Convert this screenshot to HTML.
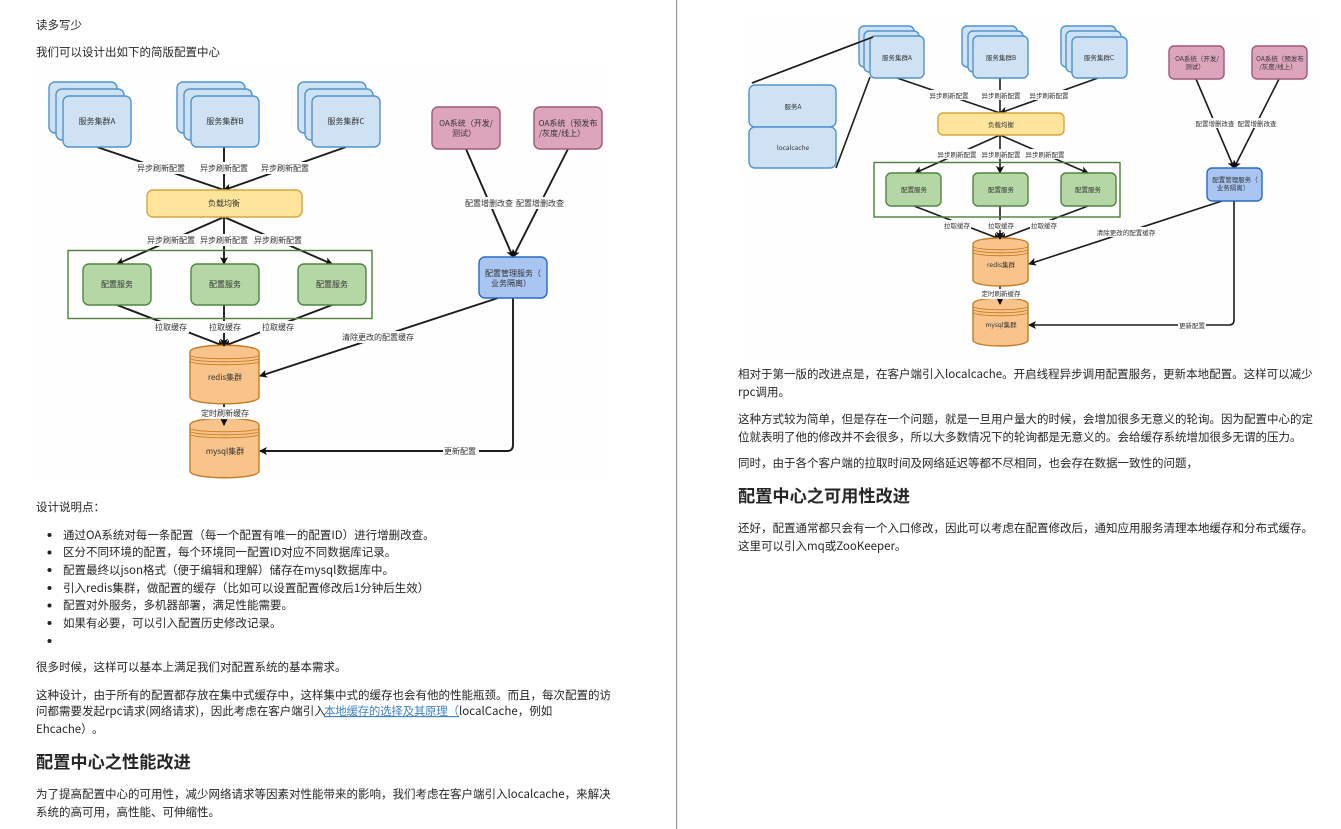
<!DOCTYPE html>
<html lang="zh">
<head>
<meta charset="utf-8">
<style>
html,body{margin:0;padding:0;background:#fff;width:1341px;height:829px;overflow:hidden}
svg{display:block}
text{font-family:"Noto Sans CJK SC","Liberation Sans",sans-serif}
.t{font-size:11.5px;fill:#262626}
.h{font-size:17.2px;font-weight:700;fill:#262626}
.d text{font-size:8px;fill:#333;text-anchor:middle}
.dr text{font-size:6.5px;fill:#333;text-anchor:middle}
.e{stroke:#1c1c1c;stroke-width:1.9;fill:none}
.er{stroke:#1c1c1c;stroke-width:1.6;fill:none}
.lb{fill:#fefefe}
.blue{fill:#cfe2f3;stroke:#4f93cf;stroke-width:1.4}
.yel{fill:#ffe49c;stroke:#d6a63e;stroke-width:1.4}
.grn{fill:#b5d6a5;stroke:#4f8540;stroke-width:1.4}
.pnk{fill:#dca5bb;stroke:#a05a78;stroke-width:1.4}
.mg{fill:#a9c5f2;stroke:#2a68c8;stroke-width:1.4}
.org{fill:#f9c48c;stroke:#c47c22;stroke-width:1.4}
.ln{fill:none;stroke:#c47c22;stroke-width:.9}
.fr{fill:none;stroke:#4f7f3c;stroke-width:1.4}
</style>
</head>
<body>
<svg width="1341" height="829" viewBox="0 0 1341 829" xmlns="http://www.w3.org/2000/svg">
<defs>
<filter id="b" x="-2%" y="-2%" width="104%" height="104%"><feGaussianBlur stdDeviation="0.3"/></filter>
<marker id="a" markerWidth="8" markerHeight="8" refX="7" refY="4" orient="auto" markerUnits="userSpaceOnUse"><path d="M0 0L8 4L0 8L2 4Z" fill="#111"/></marker>
</defs>
<rect x="676" y="0" width="1.2" height="829" fill="#999"/>

<!-- LEFT DIAGRAM -->
<g filter="url(#b)">
<rect x="36" y="68" width="572" height="412" fill="#fefefe"/>
<g class="e">
<path d="M97 147L224 190M224 147V190M346 147L224 190" marker-end="url(#a)"/>
<path d="M224 217L117 264" marker-end="url(#a)"/><path d="M224 217V264" marker-end="url(#a)"/><path d="M224 217L332 264" marker-end="url(#a)"/>
<path d="M117 305L224 346" marker-end="url(#a)"/><path d="M224 305V346" marker-end="url(#a)"/><path d="M332 305L224 346" marker-end="url(#a)"/>
<path d="M466 149L513 257" marker-end="url(#a)"/><path d="M568 149L513 257" marker-end="url(#a)"/>
<path d="M498 298L260 376" marker-end="url(#a)"/>
<path d="M513 298V445Q513 451 507 451H260" marker-end="url(#a)"/>
<path d="M224 403V425" marker-end="url(#a)"/>
</g>
<rect class="fr" x="68" y="250.500" width="304" height="68"/>
<g class="blue">
<rect x="49" y="82" width="68" height="51" rx="6"/><rect x="56" y="89" width="68" height="51" rx="6"/><rect x="63" y="96" width="68" height="51" rx="6"/>
<rect x="177" y="82" width="68" height="51" rx="6"/><rect x="184" y="89" width="68" height="51" rx="6"/><rect x="191" y="96" width="68" height="51" rx="6"/>
<rect x="298" y="82" width="68" height="51" rx="6"/><rect x="305" y="89" width="68" height="51" rx="6"/><rect x="312" y="96" width="68" height="51" rx="6"/>
</g>
<rect class="yel" x="147" y="190" width="155" height="27" rx="6"/>
<g class="grn"><rect x="83" y="264" width="68" height="41" rx="6"/><rect x="191" y="264" width="68" height="41" rx="6"/><rect x="298" y="264" width="68" height="41" rx="6"/></g>
<g class="pnk"><rect x="432" y="107" width="68" height="42" rx="6"/><rect x="534" y="107" width="68" height="42" rx="6"/></g>
<rect class="mg" x="479" y="257" width="68" height="41" rx="6"/>
<path class="org" d="M190 352C190 343 259 343 259 352V397C259 406 190 406 190 397Z"/>
<path class="ln" d="M190 355C190 360 259 360 259 355M190 358C190 363 259 363 259 358M190 361C190 366 259 366 259 361"/>
<path class="org" d="M190 425C190 416 259 416 259 425V471C259 480 190 480 190 471Z"/>
<path class="ln" d="M190 428C190 433 259 433 259 428M190 431C190 436 259 436 259 431M190 434C190 439 259 439 259 434"/>
<path d="M224 418V425" stroke="#1c1c1c" stroke-width="1.9" marker-end="url(#a)"/>
<path d="M224 340V346" stroke="#1c1c1c" stroke-width="1.9" marker-end="url(#a)"/>
<g class="d">
<g class="lb">
<rect x="136" y="162" width="50" height="12"/><rect x="199" y="162" width="50" height="12"/><rect x="260" y="162" width="50" height="12"/>
<rect x="146" y="234" width="50" height="12"/><rect x="199" y="234" width="50" height="12"/><rect x="253" y="234" width="50" height="12"/>
<rect x="153" y="321" width="36" height="12"/><rect x="207" y="321" width="36" height="12"/><rect x="260" y="321" width="36" height="12"/>
<rect x="464" y="197" width="50" height="12"/><rect x="515" y="197" width="50" height="12"/>
<rect x="342" y="331" width="74" height="12"/><rect x="443" y="445" width="36" height="12"/><rect x="199" y="407" width="50" height="12"/>
</g>
<text x="97" y="124">服务集群A</text><text x="225" y="124">服务集群B</text><text x="346" y="124">服务集群C</text>
<text x="161" y="171">异步刷新配置</text><text x="224" y="171">异步刷新配置</text><text x="285" y="171">异步刷新配置</text>
<text x="224" y="206">负载均衡</text>
<text x="171" y="243">异步刷新配置</text><text x="224" y="243">异步刷新配置</text><text x="278" y="243">异步刷新配置</text>
<text x="117" y="287">配置服务</text><text x="225" y="287">配置服务</text><text x="332" y="287">配置服务</text>
<text x="171" y="330">拉取缓存</text><text x="225" y="330">拉取缓存</text><text x="278" y="330">拉取缓存</text>
<text x="225" y="380">redis集群</text><text x="225" y="454">mysql集群</text>
<text x="225" y="416">定时刷新缓存</text>
<text x="378" y="340">清除更改的配置缓存</text><text x="460" y="454">更新配置</text>
<text x="489" y="206">配置增删改查</text><text x="540" y="206">配置增删改查</text>
<text x="466" y="126">OA系统（开发/</text><text x="464" y="136">测试）</text>
<text x="568" y="126">OA系统（预发布</text><text x="562" y="136">/灰度/线上）</text>
<text x="513" y="276">配置管理服务（</text><text x="511" y="286">业务隔离）</text>
</g>
</g>

<!-- RIGHT DIAGRAM -->
<g filter="url(#b)">
<rect x="745" y="20" width="572" height="335" fill="#fefefe"/>
<g class="er">
<path d="M752 83L873 37M836 168L870 77"/>
<path d="M897 78L1000 113M1000 78V113M1098 78L1000 113" marker-end="url(#a)"/>
<path d="M1000 135L915 173" marker-end="url(#a)"/><path d="M1000 135V173" marker-end="url(#a)"/><path d="M1000 135L1088 173" marker-end="url(#a)"/>
<path d="M914 206L1000 239" marker-end="url(#a)"/><path d="M1000 206V239" marker-end="url(#a)"/><path d="M1088 206L1000 239" marker-end="url(#a)"/>
<path d="M1196 79L1234 168" marker-end="url(#a)"/><path d="M1279 79L1234 168" marker-end="url(#a)"/>
<path d="M1222 201L1029 264" marker-end="url(#a)"/>
<path d="M1234 201V320Q1234 325 1229 325H1029" marker-end="url(#a)"/>
<path d="M1000 285V304" marker-end="url(#a)"/>
</g>
<rect class="fr" x="874" y="162.500" width="246" height="54.500"/>
<g class="blue">
<rect x="859" y="26" width="55" height="41" rx="5"/><rect x="864" y="31" width="55" height="41" rx="5"/><rect x="870" y="36" width="54" height="42" rx="5"/>
<rect x="962" y="26" width="55" height="41" rx="5"/><rect x="968" y="31" width="55" height="41" rx="5"/><rect x="973" y="36" width="55" height="42" rx="5"/>
<rect x="1061" y="26" width="55" height="41" rx="5"/><rect x="1066" y="31" width="55" height="41" rx="5"/><rect x="1072" y="37" width="55" height="41" rx="5"/>
<rect x="749" y="85" width="87" height="42" rx="6"/><rect x="749" y="127" width="87" height="41" rx="6"/>
</g>
<path d="M752 83L873 37" stroke="#1c1c1c" stroke-width="1.6" fill="none"/>
<rect class="yel" x="938" y="113" width="126" height="22" rx="5"/>
<g class="grn"><rect x="886" y="173" width="55" height="33" rx="5"/><rect x="973" y="173" width="55" height="33" rx="5"/><rect x="1061" y="173" width="55" height="33" rx="5"/></g>
<g class="pnk"><rect x="1169" y="46" width="55" height="33" rx="5"/><rect x="1252" y="46" width="55" height="33" rx="5"/></g>
<rect class="mg" x="1207" y="168" width="55" height="33" rx="5"/>
<path class="org" d="M973 244C973 236 1028 236 1028 244V280C1028 288 973 288 973 280Z"/>
<path class="ln" d="M973 246C973 251 1028 251 1028 246M973 249C973 254 1028 254 1028 249M973 252C973 257 1028 257 1028 252"/>
<path class="org" d="M973 304C973 296 1028 296 1028 304V340C1028 348 973 348 973 340Z"/>
<path class="ln" d="M973 306C973 311 1028 311 1028 306M973 309C973 314 1028 314 1028 309M973 312C973 317 1028 317 1028 312"/>
<path d="M1000 299V304" stroke="#1c1c1c" stroke-width="1.6" marker-end="url(#a)"/>
<path d="M1000 233V239" stroke="#1c1c1c" stroke-width="1.6" marker-end="url(#a)"/>
<g class="dr">
<g class="lb">
<rect x="929" y="90" width="40" height="10"/><rect x="981" y="90" width="40" height="10"/><rect x="1029" y="90" width="40" height="10"/>
<rect x="937" y="149" width="40" height="10"/><rect x="981" y="149" width="40" height="10"/><rect x="1025" y="149" width="40" height="10"/>
<rect x="943" y="220" width="28" height="10"/><rect x="987" y="220" width="28" height="10"/><rect x="1030" y="220" width="28" height="10"/>
<rect x="1195" y="118" width="40" height="10"/><rect x="1237" y="118" width="40" height="10"/>
<rect x="1096" y="227" width="60" height="10"/><rect x="1178" y="320" width="28" height="10"/><rect x="981" y="289" width="40" height="10"/>
</g>
<text x="897" y="60">服务集群A</text><text x="1001" y="60">服务集群B</text><text x="1099" y="60">服务集群C</text>
<text x="793" y="109">服务A</text><text x="793" y="150">localcache</text>
<text x="949" y="98">异步刷新配置</text><text x="1001" y="98">异步刷新配置</text><text x="1049" y="98">异步刷新配置</text>
<text x="1001" y="127">负载均衡</text>
<text x="957" y="157">异步刷新配置</text><text x="1001" y="157">异步刷新配置</text><text x="1045" y="157">异步刷新配置</text>
<text x="914" y="192">配置服务</text><text x="1001" y="192">配置服务</text><text x="1088" y="192">配置服务</text>
<text x="957" y="228">拉取缓存</text><text x="1001" y="228">拉取缓存</text><text x="1044" y="228">拉取缓存</text>
<text x="1001" y="267">redis集群</text><text x="1001" y="327">mysql集群</text>
<text x="1001" y="296">定时刷新缓存</text>
<text x="1126" y="235">清除更改的配置缓存</text><text x="1192" y="328">更新配置</text>
<text x="1215" y="126">配置增删改查</text><text x="1257" y="126">配置增删改查</text>
<text x="1197" y="61">OA系统（开发/</text><text x="1195" y="69">测试）</text>
<text x="1280" y="61">OA系统（预发布</text><text x="1278" y="69">/灰度/线上）</text>
<text x="1235" y="182">配置管理服务（</text><text x="1233" y="190">业务隔离）</text>
</g>
</g>

<!-- LEFT TEXT -->
<g class="t">
<text x="36" y="29">读多写少</text>
<text x="36" y="56">我们可以设计出如下的简版配置中心</text>
<text x="36" y="511">设计说明点：</text>
<text x="63" y="539">通过OA系统对每一条配置（每一个配置有唯一的配置ID）进行增删改查。</text>
<text x="63" y="556">区分不同环境的配置，每个环境同一配置ID对应不同数据库记录。</text>
<text x="63" y="574">配置最终以json格式（便于编辑和理解）储存在mysql数据库中。</text>
<text x="63" y="592">引入redis集群，做配置的缓存（比如可以设置配置修改后1分钟后生效）</text>
<text x="63" y="609">配置对外服务，多机器部署，满足性能需要。</text>
<text x="63" y="627">如果有必要，可以引入配置历史修改记录。</text>
<text x="36" y="671">很多时候，这样可以基本上满足我们对配置系统的基本需求。</text>
<text x="36" y="699">这种设计，由于所有的配置都存放在集中式缓存中，这样集中式的缓存也会有他的性能瓶颈。而且，每次配置的访</text>
<text x="36" y="715">问都需要发起rpc请求(网络请求)，因此考虑在客户端引入</text>
<text x="324" y="715" fill="#4183c4" style="fill:#4183c4" text-decoration="underline" textLength="135">本地缓存的选择及其原理（</text>
<text x="459" y="715">localCache，例如</text>
<text x="36" y="733">Ehcache）</text><text x="92" y="733">。</text>
<text x="36" y="798">为了提高配置中心的可用性，减少网络请求等因素对性能带来的影响，我们考虑在客户端引入localcache，来解决</text>
<text x="36" y="816">系统的高可用，高性能、可伸缩性。</text>
</g>
<g fill="#222">
<circle cx="49.500" cy="535" r="2"/><circle cx="49.500" cy="552.500" r="2"/><circle cx="49.500" cy="570" r="2"/><circle cx="49.500" cy="588" r="2"/><circle cx="49.500" cy="605.500" r="2"/><circle cx="49.500" cy="623" r="2"/><circle cx="49.500" cy="641" r="2"/>
</g>
<text class="h" x="36" y="768">配置中心之性能改进</text>

<!-- RIGHT TEXT -->
<g class="t">
<text x="738" y="378">相对于第一版的改进点是，在客户端引入localcache。开启线程异步调用配置服务，更新本地配置。这样可以减少</text>
<text x="738" y="396">rpc调用。</text>
<text x="738" y="423">这种方式较为简单，但是存在一个问题，就是一旦用户量大的时候，会增加很多无意义的轮询。因为配置中心的定</text>
<text x="738" y="441">位就表明了他的修改并不会很多，所以大多数情况下的轮询都是无意义的。会给缓存系统增加很多无谓的压力。</text>
<text x="738" y="467">同时，由于各个客户端的拉取时间及网络延迟等都不尽相同，也会存在数据一致性的问题，</text>
<text x="738" y="532">还好，配置通常都只会有一个入口修改，因此可以考虑在配置修改后，通知应用服务清理本地缓存和分布式缓存。</text>
<text x="738" y="550">这里可以引入mq或ZooKeeper。</text>
</g>
<text class="h" x="738" y="502">配置中心之可用性改进</text>
</svg>
</body>
</html>
